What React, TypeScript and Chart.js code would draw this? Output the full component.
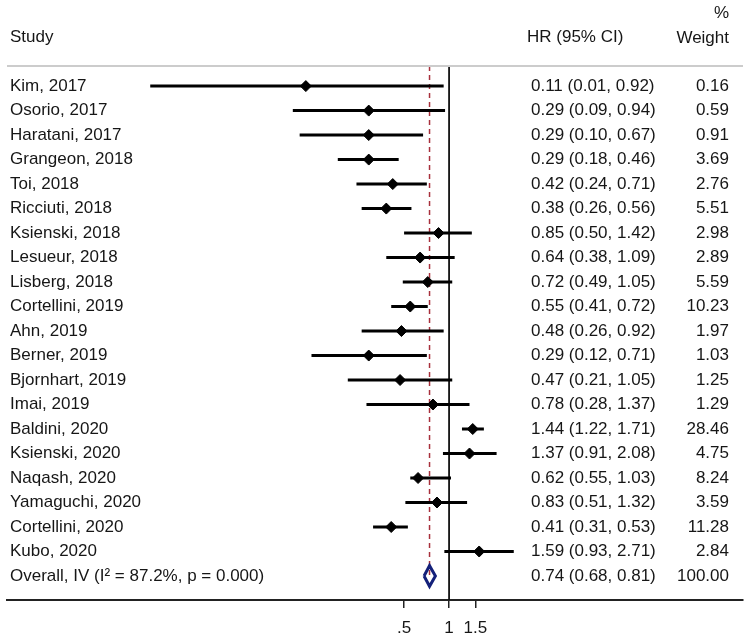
import React, { useEffect, useRef } from "react";
import { Chart, registerables } from "chart.js";

Chart.register(...registerables);

const studies = [
  "Kim, 2017", "Osorio, 2017", "Haratani, 2017", "Grangeon, 2018", "Toi, 2018",
  "Ricciuti, 2018", "Ksienski, 2018", "Lesueur, 2018", "Lisberg, 2018", "Cortellini, 2019",
  "Ahn, 2019", "Berner, 2019", "Bjornhart, 2019", "Imai, 2019", "Baldini, 2020",
  "Ksienski, 2020", "Naqash, 2020", "Yamaguchi, 2020", "Cortellini, 2020", "Kubo, 2020",
];
const hr = [0.11, 0.29, 0.29, 0.29, 0.42, 0.38, 0.85, 0.64, 0.72, 0.55, 0.48, 0.29, 0.47, 0.78, 1.44, 1.37, 0.62, 0.83, 0.41, 1.59];
const ciLow = [0.01, 0.09, 0.10, 0.18, 0.24, 0.26, 0.50, 0.38, 0.49, 0.41, 0.26, 0.12, 0.21, 0.28, 1.22, 0.91, 0.55, 0.51, 0.31, 0.93];
const ciHigh = [0.92, 0.94, 0.67, 0.46, 0.71, 0.56, 1.42, 1.09, 1.05, 0.72, 0.92, 0.71, 1.05, 1.37, 1.71, 2.08, 1.03, 1.32, 0.53, 2.71];
const weights = [0.16, 0.59, 0.91, 3.69, 2.76, 5.51, 2.98, 2.89, 5.59, 10.23, 1.97, 1.03, 1.25, 1.29, 28.46, 4.75, 8.24, 3.59, 11.28, 2.84];

const overallLabel = "Overall, IV (I\u00b2 = 87.2%, p = 0.000)";
const overallHr = 0.74;
const overallLow = 0.68;
const overallHigh = 0.81;
const overallWeight = 100.0;

const tickValues = [0.5, 1, 1.5];
const tickLabels = [".5", "1", "1.5"];

const FONT = '17px "Liberation Sans", Arial, sans-serif';
const TEXT_COLOR = "#161616";

export default function App() {
  const ref = useRef<HTMLCanvasElement | null>(null);

  useEffect(() => {
    if (!ref.current) return;
    const n = studies.length;
    const overallRow = n;
    const yMin = -0.82;
    const yMax = 20.98;

    const ciSets = studies.map((_, i) => ({
      type: "line" as const,
      data: [
        { x: ciLow[i], y: i },
        { x: ciHigh[i], y: i },
      ],
      borderColor: "#000",
      borderWidth: 3,
      pointRadius: 0,
      borderCapStyle: "butt" as const,
      fill: false,
    }));

    const h = 0.42;
    const textPlugin = {
      id: "forestText",
      afterDraw(chart: any) {
        const ctx = chart.ctx;
        const ys = chart.scales.y;
        ctx.save();
        // header rule
        ctx.strokeStyle = "#cccccc";
        ctx.lineWidth = 2;
        ctx.beginPath();
        ctx.moveTo(7, chart.chartArea.top);
        ctx.lineTo(743, chart.chartArea.top);
        ctx.stroke();

        ctx.font = FONT;
        ctx.fillStyle = TEXT_COLOR;
        ctx.textBaseline = "middle";
        ctx.textAlign = "left";
        ctx.fillText("Study", 10, 37);
        ctx.fillText("HR (95% CI)", 527, 37);
        ctx.textAlign = "right";
        ctx.fillText("%", 729, 13);
        ctx.fillText("Weight", 729, 38);

        for (let i = 0; i < n; i++) {
          const y = ys.getPixelForValue(i);
          ctx.textAlign = "left";
          ctx.fillText(studies[i], 10, y);
          ctx.fillText(
            `${hr[i].toFixed(2)} (${ciLow[i].toFixed(2)}, ${ciHigh[i].toFixed(2)})`,
            531,
            y
          );
          ctx.textAlign = "right";
          ctx.fillText(weights[i].toFixed(2), 729, y);
        }
        const yo = ys.getPixelForValue(overallRow);
        ctx.textAlign = "left";
        ctx.fillText(overallLabel, 10, yo);
        ctx.fillText(
          `${overallHr.toFixed(2)} (${overallLow.toFixed(2)}, ${overallHigh.toFixed(2)})`,
          531,
          yo
        );
        ctx.textAlign = "right";
        ctx.fillText(overallWeight.toFixed(2), 729, yo);
        ctx.restore();
      },
    };

    const chart = new Chart(ref.current, {
      type: "scatter",
      data: {
        datasets: [
          {
            type: "scatter",
            data: hr.map((v, i) => ({ x: v, y: i })),
            pointStyle: "rectRot",
            pointRadius: 5.5,
            backgroundColor: "#000",
            borderColor: "#000",
            borderWidth: 1,
          },
          {
            type: "line",
            data: [
              { x: overallLow, y: overallRow },
              { x: overallHr, y: overallRow - h },
              { x: overallHigh, y: overallRow },
              { x: overallHr, y: overallRow + h },
              { x: overallLow, y: overallRow },
            ],
            borderColor: "#14217a",
            borderWidth: 3,
            pointRadius: 0,
            fill: false,
            tension: 0,
            borderJoinStyle: "miter",
          },
          ...ciSets,
          {
            type: "line",
            data: [
              { x: overallHr, y: yMin },
              { x: overallHr, y: overallRow },
            ],
            borderColor: "#a8303c",
            borderWidth: 1.5,
            borderDash: [5, 4],
            pointRadius: 0,
            fill: false,
          },
          {
            type: "line",
            data: [
              { x: 1, y: yMin },
              { x: 1, y: yMax },
            ],
            borderColor: "#111",
            borderWidth: 1.8,
            pointRadius: 0,
            fill: false,
          },
        ] as any,
      },
      options: {
        animation: false,
        responsive: false,
        devicePixelRatio: 1,
        layout: { padding: { left: 7, right: 6, top: 66, bottom: 0 } },
        plugins: {
          legend: { display: false },
          tooltip: { enabled: false },
        },
        scales: {
          x: {
            type: "logarithmic",
            min: 0.0011,
            max: 92,
            position: "bottom",
            afterBuildTicks: (axis: any) => {
              axis.ticks = tickValues.map((v) => ({ value: v }));
            },
            afterFit: (scale: any) => {
              scale.height = 38;
            },
            ticks: {
              autoSkip: false,
              maxRotation: 0,
              padding: 10,
              color: TEXT_COLOR,
              font: { family: '"Liberation Sans", Arial, sans-serif', size: 17 },
              callback: (value: any) => {
                const idx = tickValues.indexOf(Number(value));
                return idx >= 0 ? tickLabels[idx] : "";
              },
            },
            grid: {
              display: true,
              drawOnChartArea: false,
              drawTicks: true,
              tickLength: 8,
              color: "#222",
              lineWidth: 1.5,
            },
            border: { display: true, color: "#222", width: 2 },
          },
          y: {
            type: "linear",
            min: yMin,
            max: yMax,
            reverse: true,
            display: false,
          },
        },
      },
      plugins: [textPlugin],
    });
    return () => chart.destroy();
  }, []);

  return (
    <div
      style={{
        position: "fixed",
        left: 0,
        top: 0,
        width: 749,
        height: 638,
        background: "#fff",
      }}
    >
      <canvas ref={ref} width={749} height={638} />
    </div>
  );
}
